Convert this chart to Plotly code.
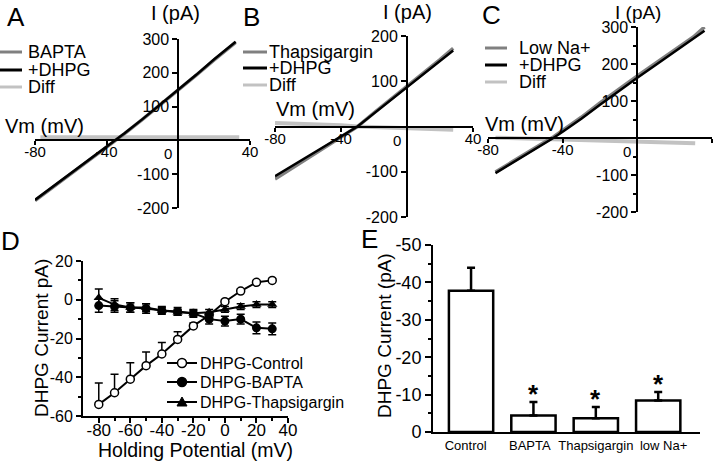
import plotly.graph_objects as go

W, H = 720, 463
FONT = "Liberation Sans, Arial, Helvetica, sans-serif"

# ---------------- Data ----------------
# Panel A (BAPTA)
a_v = [-80, -70, -60, -50, -40, -35, -30, -20, -10, 0, 10, 20, 30, 32]
a_bapta = [-178, -139, -100, -61, -21, -1, 20, 62, 105, 149, 193, 238, 283, 290]
a_dhpg = [-176, -137, -98, -59, -20, 0, 21, 63, 106, 150, 194, 240, 285, 292]
a_diff_v = [-77, -60, -40, -20, 0, 20, 34]
a_diff = [9, 9, 10, 10, 9, 9, 9]

# Panel B (Thapsigargin)
b_v = [-80, -70, -60, -50, -40, -30, -20, -10, 0, 10, 20, 28]
b_thaps = [-116, -93, -70, -47, -24, 0, 30, 59, 88, 118, 148, 173]
b_dhpg = [-110, -88, -66, -44, -22, 0, 29, 58, 87, 116, 145, 168]
b_diff_v = [-80, -60, -40, -30, -20, 0, 20, 28]
b_diff = [8, 6, 3, 0, -1, -3, -6, -7]

# Panel C (Low Na+)
c_v = [-76, -70, -60, -50, -45, -40, -30, -20, -10, 0, 10, 20, 30, 36]
c_lowna = [-92, -73, -42, -12, 3, 20, 56, 95, 132, 168, 203, 238, 273, 300]
c_dhpg = [-95, -77, -46, -15, 0, 17, 52, 90, 127, 163, 198, 233, 268, 290]
c_diff_v = [-76, -60, -40, -20, 0, 20, 31]
c_diff = [1, -1, -3, -6, -9, -12, -14]

# Panel D
d_v = [-80, -70, -60, -50, -40, -30, -20, -10, 0, 10, 20, 30]
d_ctrl = [-54, -48, -41, -34, -28, -20.5, -13.5, -8, -1, 4.5, 9, 10]
d_ctrl_err = [11, 9.5, 8.5, 7, 6, 4, 1.5, 1, 1, 1, 1, 1]
d_bapta = [-3, -3.5, -4, -4.5, -5.5, -6, -7, -10, -11, -10, -14.5, -15]
d_bapta_err = [3.5, 3, 2.5, 2.5, 2, 2, 2, 2.5, 2.5, 2.5, 3, 3]
d_thaps = [1, -2.5, -4, -4, -5.5, -6.5, -7, -6.5, -5, -3.5, -2.5, -2.5]
d_thaps_err = [4.5, 3, 2.5, 2, 1.5, 1.5, 1.5, 1.5, 1.5, 1.5, 1.5, 1.5]
d_names = ["DHPG-Control", "DHPG-BAPTA", "DHPG-Thapsigargin"]

# Panel E
e_cats = ["Control", "BAPTA", "Thapsigargin", "low Na+"]
e_vals = [-37.8, -4.4, -3.7, -8.4]
e_err = [6.1, 3.6, 3.0, 2.3]
e_sig = ["", "*", "*", "*"]

# ---------------- Helpers ----------------
def xd(p0, p1):
    return [p0 / W, p1 / W]

def yd(top, bot):
    return [1 - bot / H, 1 - top / H]

def zpos(domain, rng):
    return domain[0] + (0 - rng[0]) / (rng[1] - rng[0]) * (domain[1] - domain[0])

def px(x):
    return x / W

def py(y):
    return 1 - y / H

def ticks(vals):
    # plain hyphen-minus labels, as in the original figure
    return dict(tickmode="array", tickvals=vals, ticktext=[str(v) for v in vals])

GRAY = "#808080"
LGRAY = "#c2c2c2"

base_axis = dict(showline=True, linecolor="black", linewidth=2, ticks="outside",
                 tickcolor="black", tickwidth=2, showgrid=False, zeroline=False,
                 automargin=False, tickangle=0,
                 tickfont=dict(family=FONT, size=16, color="black"))

fig = go.Figure()

# ---------------- Panels A-C ----------------
panels = [
    dict(ax="", v=a_v, ctl=a_bapta, dh=a_dhpg, dv=a_diff_v, df=a_diff,
         xdom=xd(35, 250), ydom=yd(39, 208), xr=[-80, 40], yr=[-200, 300]),
    dict(ax="2", v=b_v, ctl=b_thaps, dh=b_dhpg, dv=b_diff_v, df=b_diff,
         xdom=xd(275, 473), ydom=yd(36, 217), xr=[-80, 40], yr=[-200, 200]),
    dict(ax="3", v=c_v, ctl=c_lowna, dh=c_dhpg, dv=c_diff_v, df=c_diff,
         xdom=xd(488, 712), ydom=yd(27, 212), xr=[-80, 40], yr=[-200, 300]),
]

layout_axes = {}
for p in panels:
    xa, ya = "x" + p["ax"], "y" + p["ax"]
    fig.add_trace(go.Scatter(x=p["dv"], y=p["df"], mode="lines", line=dict(color=LGRAY, width=4),
                             xaxis=xa, yaxis=ya, showlegend=False))
    fig.add_trace(go.Scatter(x=p["v"], y=p["ctl"], mode="lines", line=dict(color=GRAY, width=3.5),
                             xaxis=xa, yaxis=ya, showlegend=False))
    fig.add_trace(go.Scatter(x=p["v"], y=p["dh"], mode="lines", line=dict(color="black", width=2.5),
                             xaxis=xa, yaxis=ya, showlegend=False))
    ytv = [t for t in range(p["yr"][0], p["yr"][1] + 1, 100) if t != 0]
    layout_axes["xaxis" + p["ax"]] = dict(base_axis, domain=p["xdom"], range=p["xr"], anchor="free",
                                          position=zpos(p["ydom"], p["yr"]),
                                          ticklen=4, ticklabelstandoff=-6,
                                          tickfont=dict(family=FONT, size=15, color="black"),
                                          **ticks([-80, -40, 40]))
    layout_axes["yaxis" + p["ax"]] = dict(base_axis, domain=p["ydom"], range=p["yr"], anchor="free",
                                          position=zpos(p["xdom"], p["xr"]),
                                          ticklen=5, **ticks(ytv))
layout_axes["yaxis3"]["minor"] = dict(dtick=50, tick0=0, ticklen=3, ticks="outside",
                                      tickcolor="black", tickwidth=1.5)

# ---------------- Panel D ----------------
d_series = [
    (d_ctrl, d_ctrl_err, False, dict(symbol="circle", size=8, color="white",
                                      line=dict(color="black", width=1.5))),
    (d_bapta, d_bapta_err, True, dict(symbol="circle", size=9, color="black")),
    (d_thaps, d_thaps_err, True, dict(symbol="triangle-up", size=9, color="black")),
]
for vals, err, sym, mk in d_series:
    if sym:
        ey = dict(type="data", array=err, symmetric=True, color="black", thickness=1.5, width=4)
    else:
        ey = dict(type="data", array=err, arrayminus=[0] * len(err), symmetric=False,
                  color="black", thickness=1.5, width=4)
    fig.add_trace(go.Scatter(x=d_v, y=vals, mode="lines+markers", line=dict(color="black", width=2),
                             marker=mk, error_y=ey, xaxis="x4", yaxis="y4", showlegend=False))

layout_axes["xaxis4"] = dict(base_axis, domain=xd(83, 288), range=[-90, 40], anchor="y4",
                             ticklen=5, ticklabelstandoff=-7,
                             tickfont=dict(family=FONT, size=17, color="black"),
                             minor=dict(tickvals=[-70, -50, -30, -10, 10, 30], ticklen=3,
                                        ticks="outside", tickcolor="black", tickwidth=1.5),
                             **ticks([-80, -60, -40, -20, 0, 20, 40]))
layout_axes["yaxis4"] = dict(base_axis, domain=yd(261, 416), range=[-60, 20], anchor="x4",
                             ticklen=5,
                             tickfont=dict(family=FONT, size=16, color="black"),
                             minor=dict(tickvals=[-50, -30, -10, 10], ticklen=3,
                                        ticks="outside", tickcolor="black", tickwidth=1.5),
                             **ticks([-60, -40, -20, 0, 20]))

# ---------------- Panel E ----------------
fig.add_trace(go.Bar(x=e_cats, y=e_vals, width=0.71,
                     marker=dict(color="white", line=dict(color="black", width=2.5)),
                     error_y=dict(type="data", symmetric=False, array=[0] * len(e_err),
                                  arrayminus=e_err, color="black", thickness=2.5, width=4),
                     xaxis="x5", yaxis="y5", showlegend=False))

NB = "\u00a0"
e_ticktext = [e_cats[0] + NB * 3, e_cats[1] + NB * 2, e_cats[2], NB * 3 + e_cats[3]]
layout_axes["xaxis5"] = dict(base_axis, domain=xd(433, 700), range=[-0.61, 3.67], anchor="y5",
                             ticks="", tickmode="array", tickvals=e_cats, ticktext=e_ticktext,
                             tickfont=dict(family=FONT, size=13, color="black"))
layout_axes["yaxis5"] = dict(base_axis, domain=yd(245, 432), range=[0, -50], anchor="x5",
                             ticklen=6,
                             tickfont=dict(family=FONT, size=18, color="black"),
                             minor=dict(tickvals=[-5, -15, -25, -35, -45], ticklen=3,
                                        ticks="outside", tickcolor="black", tickwidth=1.5),
                             **ticks([0, -10, -20, -30, -40, -50]))

annotations = []
for c, v, e, s in zip(e_cats, e_vals, e_err, e_sig):
    if s:
        annotations.append(dict(x=c, y=v - e, xref="x5", yref="y5", text="<b>" + s + "</b>",
                                showarrow=False, yanchor="bottom", yshift=-9,
                                font=dict(family=FONT, size=26, color="black")))

# ---------------- Text ----------------
def txt(x, y, s, size, xanchor="center", yanchor="middle", angle=0, fam=FONT):
    annotations.append(dict(x=px(x), y=py(y), xref="paper", yref="paper", text=s, showarrow=False,
                            xanchor=xanchor, yanchor=yanchor, textangle=angle,
                            font=dict(family=fam, size=size, color="black")))

# Panel letters
for L, x, y in [("A", 16, 17), ("B", 252, 17), ("C", 491, 15), ("D", 10, 241), ("E", 370, 239)]:
    txt(x, y, L, 26)
# axis titles A-C
txt(175, 13, "I (pA)", 20)
txt(407, 12, "I (pA)", 20)
txt(638, 12, "I (pA)", 19)
txt(3, 126, "Vm (mV)", 20, xanchor="left")
txt(274, 109, "Vm (mV)", 20, xanchor="left")
txt(483, 124, "Vm (mV)", 20, xanchor="left")
# zero labels on crossing x axes
for p in panels:
    annotations.append(dict(x=0, y=0, xref="x" + p["ax"], yref="y" + p["ax"], text="0",
                            showarrow=False, xanchor="right", yanchor="top", xshift=-4, yshift=-3,
                            font=dict(family=FONT, size=15, color="black")))
# D / E titles
txt(41, 338, "DHPG Current pA)", 19, angle=-90)
txt(195, 450, "Holding Potential (mV)", 19.5)
txt(384, 336, "DHPG Current (pA)", 19, angle=-90)

# ---------------- Legends (manual) ----------------
shapes = []
leg_sets = [
    (0, 22, 26, [52, 70, 87], ["BAPTA", "+DHPG", "Diff"]),
    (243, 267, 267, [52, 68, 85], ["Thapsigargin", "+DHPG", "Diff"]),
    (485, 507, 517, [48, 65, 82], ["Low Na+", "+DHPG", "Diff"]),
]
leg_colors = [GRAY, "black", LGRAY]
for x0, x1, tx, ys, names in leg_sets:
    for y, n, col in zip(ys, names, leg_colors):
        shapes.append(dict(type="line", xref="paper", yref="paper", x0=px(x0), x1=px(x1),
                           y0=py(y), y1=py(y), line=dict(color=col, width=3)))
        txt(tx, y, n, 18, xanchor="left")

d_leg_y = [363, 382, 402]
for i, (y, n) in enumerate(zip(d_leg_y, d_names)):
    shapes.append(dict(type="line", xref="paper", yref="paper", x0=px(167), x1=px(197),
                       y0=py(y), y1=py(y), line=dict(color="black", width=2)))
    if i < 2:
        shapes.append(dict(type="circle", xref="paper", yref="paper",
                           x0=px(182 - 4.5), x1=px(182 + 4.5), y0=py(y + 4.5), y1=py(y - 4.5),
                           fillcolor="white" if i == 0 else "black",
                           line=dict(color="black", width=1.5)))
    else:
        path = "M {} {} L {} {} L {} {} Z".format(px(177), py(y + 4), px(187), py(y + 4), px(182), py(y - 5))
        shapes.append(dict(type="path", xref="paper", yref="paper", path=path,
                           fillcolor="black", line=dict(color="black", width=1)))
    txt(198, y, n, 16, xanchor="left")

fig.update_layout(width=W, height=H, margin=dict(l=0, r=0, t=0, b=0),
                  paper_bgcolor="white", plot_bgcolor="white", showlegend=False,
                  annotations=annotations, shapes=shapes, **layout_axes)

fig.write_html("out.html", config={"displayModeBar": False},
               post_script="document.body.style.margin='0px';")
